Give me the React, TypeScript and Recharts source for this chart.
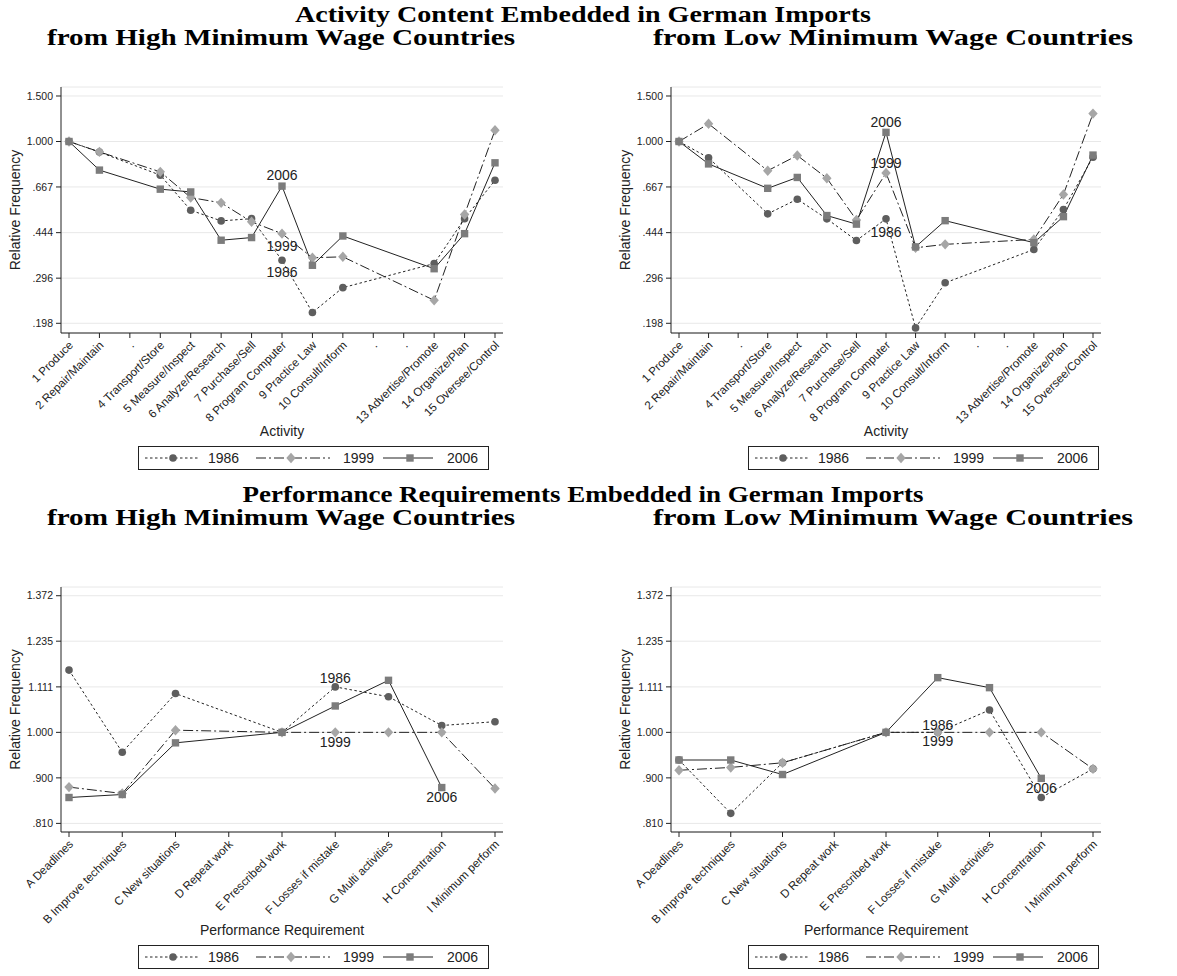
import React from 'react';
import { LineChart, Line, XAxis, YAxis, CartesianGrid, Label } from 'recharts';

// Activity panels (top row) - categories 3, 11, 12 have no data
const activityLabels = [
  '1 Produce', '2 Repair/Maintain', '.', '4 Transport/Store', '5 Measure/Inspect',
  '6 Analyze/Research', '7 Purchase/Sell', '8 Program Computer', '9 Practice Law',
  '10 Consult/Inform', '.', '.', '13 Advertise/Promote', '14 Organize/Plan', '15 Oversee/Control',
];
const actHigh1986 = [1.0, 0.91, null, 0.741, 0.542, 0.493, 0.503, 0.347, 0.218, 0.272, null, null, 0.337, 0.503, 0.708];
const actHigh1999 = [1.0, 0.912, null, 0.763, 0.607, 0.579, 0.489, 0.44, 0.355, 0.358, null, null, 0.243, 0.522, 1.106];
const actHigh2006 = [1.0, 0.775, null, 0.654, 0.638, 0.415, 0.425, 0.672, 0.332, 0.431, null, null, 0.322, 0.44, 0.827];
const actLow1986 = [1.0, 0.865, null, 0.525, 0.598, 0.502, 0.414, 0.502, 0.19, 0.284, null, null, 0.382, 0.546, 0.87];
const actLow1999 = [1.0, 1.171, null, 0.771, 0.883, 0.721, 0.497, 0.755, 0.388, 0.4, null, null, 0.418, 0.624, 1.282];
const actLow2006 = [1.0, 0.819, null, 0.659, 0.726, 0.517, 0.479, 1.085, 0.391, 0.494, null, null, 0.406, 0.512, 0.886];
const activityTicks = [0.198, 0.296, 0.444, 0.667, 1.0, 1.5];
const activityTickLabels = ['.198', '.296', '.444', '.667', '1.000', '1.500'];

// Performance requirement panels (bottom row) - D has no data
const requirementLabels = [
  'A Deadlines', 'B Improve techniques', 'C New situations', 'D Repeat work', 'E Prescribed work',
  'F Losses if mistake', 'G Multi activities', 'H Concentration', 'I Minimum perform',
];
const reqHigh1986 = [1.155, 0.955, 1.094, null, 1.0, 1.111, 1.086, 1.016, 1.025];
const reqHigh1999 = [0.881, 0.868, 1.005, null, 1.0, 1.0, 1.0, 1.0, 0.878];
const reqHigh2006 = [0.86, 0.866, 0.976, null, 1.0, 1.063, 1.128, 0.88, null];
const reqLow1986 = [0.938, 0.829, 0.932, null, 1.0, 1.0, 1.053, 0.86, 0.919];
const reqLow1999 = [0.916, 0.922, 0.932, null, 1.0, 1.0, 1.0, 1.0, 0.919];
const reqLow2006 = [0.938, 0.938, 0.907, null, 1.0, 1.135, 1.109, 0.899, null];
const requirementTicks = [0.81, 0.9, 1.0, 1.111, 1.235, 1.372];
const requirementTickLabels = ['.810', '.900', '1.000', '1.111', '1.235', '1.372'];

const years = ['1986', '1999', '2006'];

const FONT = '"Liberation Sans", Arial, Helvetica, sans-serif';
const SERIF = '"Liberation Serif", "Times New Roman", serif';
const INK = '#222';

const seriesStyles = [
  { key: 'y1986', name: years[0], dash: '2.5 2.5', marker: 'circle' },
  { key: 'y1999', name: years[1], dash: '10 3 2 3', marker: 'diamond' },
  { key: 'y2006', name: years[2], dash: undefined, marker: 'square' },
];

function buildRows(labels: string[], a: (number | null)[], b: (number | null)[], c: (number | null)[]) {
  return labels.map((label, i) => ({ x: i + 1, label, y1986: a[i], y1999: b[i], y2006: c[i] }));
}

function drawMarker(kind: string, cx: number, cy: number) {
  if (kind === 'circle') return <circle cx={cx} cy={cy} r={3.8} fill="#5e5e5e" />;
  if (kind === 'diamond')
    return (
      <polygon
        points={`${cx},${cy - 5.2} ${cx + 4.7},${cy} ${cx},${cy + 5.2} ${cx - 4.7},${cy}`}
        fill="#a6a6a6"
      />
    );
  return <rect x={cx - 3.7} y={cy - 3.7} width={7.4} height={7.4} fill="#7c7c7c" />;
}

interface PointLabel {
  key: string;
  index: number;
  dy: number;
}

const makeDot = (kind: string, name: string, key: string, pointLabels: PointLabel[]) => (props: any) => {
  const { cx, cy, value, index } = props;
  if (value == null || cx == null || cy == null) return <g key={`e-${key}-${index}`} />;
  const lab = pointLabels.find((p) => p.key === key && p.index === index);
  return (
    <g key={`d-${key}-${index}`}>
      {drawMarker(kind, cx, cy)}
      {lab && (
        <text
          x={cx}
          y={cy + lab.dy}
          textAnchor="middle"
          dominantBaseline="central"
          fontFamily={FONT}
          fontSize={14}
          fill={INK}
        >
          {name}
        </text>
      )}
    </g>
  );
};

const AngledTick = (props: any) => {
  const { x, y, payload, labels } = props;
  const text = labels[payload.value - 1];
  const ax = x + 2;
  const ay = y + 3;
  return (
    <text
      x={ax}
      y={ay}
      dy="0.35em"
      textAnchor="end"
      transform={`rotate(-45 ${ax} ${ay})`}
      fontFamily={FONT}
      fontSize={11.6}
      fill={INK}
    >
      {text}
    </text>
  );
};

function LegendBox({ left, top }: { left: number; top: number }) {
  const entries = [
    { x1: 7, x2: 62, mx: 35, tx: 70 },
    { x1: 118, x2: 192, mx: 153, tx: 205 },
    { x1: 245, x2: 295, mx: 272, tx: 309 },
  ];
  return (
    <svg style={{ position: 'absolute', left, top }} width={352} height={25}>
      <rect x={0.5} y={0.5} width={350} height={23} fill="#fff" stroke={INK} />
      {seriesStyles.map((s, i) => (
        <g key={s.key}>
          <line x1={entries[i].x1} x2={entries[i].x2} y1={12} y2={12} stroke={INK} strokeDasharray={s.dash} />
          {drawMarker(s.marker, entries[i].mx, 12)}
          <text x={entries[i].tx} y={12} dominantBaseline="central" fontFamily={FONT} fontSize={14} fill={INK}>
            {s.name}
          </text>
        </g>
      ))}
    </svg>
  );
}

interface PanelProps {
  rows: any[];
  xLabels: string[];
  yTicks: number[];
  yTickLabels: string[];
  domain: [number, number];
  xTitle: string;
  left: number;
  top: number;
  width: number;
  height: number;
  xAxisHeight: number;
  xTitleOffset: number;
  pointLabels: PointLabel[];
}

function Panel(p: PanelProps) {
  const xTicks = p.xLabels.map((_, i) => i + 1);
  return (
    <div style={{ position: 'absolute', left: p.left, top: p.top }}>
      <LineChart width={p.width} height={p.height} data={p.rows} margin={{ top: 17, right: 7, bottom: 0, left: 0 }}>
        <CartesianGrid vertical={false} stroke="#e8e8e8" />
        <XAxis
          type="number"
          dataKey="x"
          domain={[1, p.xLabels.length]}
          ticks={xTicks}
          interval={0}
          padding={{ left: 8, right: 8 }}
          height={p.xAxisHeight}
          tickSize={5}
          tickMargin={2}
          stroke={INK}
          tick={<AngledTick labels={p.xLabels} />}
        >
          <Label
            value={p.xTitle}
            position="insideBottom"
            offset={p.xTitleOffset}
            style={{ fontFamily: FONT, fontSize: 14, fill: INK }}
          />
        </XAxis>
        <YAxis
          type="number"
          scale="log"
          domain={p.domain}
          allowDataOverflow
          ticks={p.yTicks}
          interval={0}
          width={61}
          tickSize={5}
          tickMargin={3}
          stroke={INK}
          tick={{ fontFamily: FONT, fontSize: 10.5, fill: INK }}
          tickFormatter={(v: number) => p.yTickLabels[p.yTicks.indexOf(v)] ?? String(v)}
        >
          <Label
            value="Relative Frequency"
            angle={-90}
            position="insideLeft"
            offset={15}
            style={{ fontFamily: FONT, fontSize: 14, fill: INK, textAnchor: 'middle' }}
          />
        </YAxis>
        {seriesStyles.map((s) => (
          <Line
            key={s.key}
            dataKey={s.key}
            name={s.name}
            type="linear"
            stroke={INK}
            strokeWidth={1}
            strokeDasharray={s.dash}
            connectNulls
            isAnimationActive={false}
            dot={makeDot(s.marker, s.name, s.key, p.pointLabels)}
            activeDot={false}
          />
        ))}
      </LineChart>
    </div>
  );
}

function TitleBlock({ top, main, mainLength }: { top: number; main: string; mainLength: number }) {
  const style = { fontFamily: SERIF, fontWeight: 700, fontSize: 24, fill: '#000' } as const;
  return (
    <svg style={{ position: 'absolute', left: 0, top }} width={1177} height={56}>
      <text x={583} y={22} textAnchor="middle" textLength={mainLength} lengthAdjust="spacingAndGlyphs" style={style}>
        {main}
      </text>
      <text x={281} y={45} textAnchor="middle" textLength={468} lengthAdjust="spacingAndGlyphs" style={style}>
        from High Minimum Wage Countries
      </text>
      <text x={893} y={45} textAnchor="middle" textLength={480} lengthAdjust="spacingAndGlyphs" style={style}>
        from Low Minimum Wage Countries
      </text>
    </svg>
  );
}

export default function App() {
  const actDomain: [number, number] = [0.1816, 1.625];
  const reqDomain: [number, number] = [0.794, 1.4];
  return (
    <div style={{ position: 'absolute', left: 0, top: 0, width: 1177, height: 976, background: '#fff', overflow: 'hidden' }}>
      <TitleBlock top={0} main="Activity Content Embedded in German Imports" mainLength={576} />
      <TitleBlock top={480} main="Performance Requirements Embedded in German Imports" mainLength={681} />

      <Panel
        rows={buildRows(activityLabels, actHigh1986, actHigh1999, actHigh2006)}
        xLabels={activityLabels}
        yTicks={activityTicks}
        yTickLabels={activityTickLabels}
        domain={actDomain}
        xTitle="Activity"
        left={0}
        top={70}
        width={510}
        height={375}
        xAxisHeight={112}
        xTitleOffset={9}
        pointLabels={[
          { key: 'y2006', index: 7, dy: -11 },
          { key: 'y1999', index: 7, dy: 12.5 },
          { key: 'y1986', index: 7, dy: 12 },
        ]}
      />
      <Panel
        rows={buildRows(activityLabels, actLow1986, actLow1999, actLow2006)}
        xLabels={activityLabels}
        yTicks={activityTicks}
        yTickLabels={activityTickLabels}
        domain={actDomain}
        xTitle="Activity"
        left={610}
        top={70}
        width={498}
        height={375}
        xAxisHeight={112}
        xTitleOffset={9}
        pointLabels={[
          { key: 'y2006', index: 7, dy: -10 },
          { key: 'y1999', index: 7, dy: -10 },
          { key: 'y1986', index: 7, dy: 13 },
        ]}
      />
      <Panel
        rows={buildRows(requirementLabels, reqHigh1986, reqHigh1999, reqHigh2006)}
        xLabels={requirementLabels}
        yTicks={requirementTicks}
        yTickLabels={requirementTickLabels}
        domain={reqDomain}
        xTitle="Performance Requirement"
        left={0}
        top={570}
        width={510}
        height={370}
        xAxisHeight={108}
        xTitleOffset={5}
        pointLabels={[
          { key: 'y1986', index: 5, dy: -9 },
          { key: 'y1999', index: 5, dy: 9.5 },
          { key: 'y2006', index: 7, dy: 9.5 },
        ]}
      />
      <Panel
        rows={buildRows(requirementLabels, reqLow1986, reqLow1999, reqLow2006)}
        xLabels={requirementLabels}
        yTicks={requirementTicks}
        yTickLabels={requirementTickLabels}
        domain={reqDomain}
        xTitle="Performance Requirement"
        left={610}
        top={570}
        width={498}
        height={370}
        xAxisHeight={108}
        xTitleOffset={5}
        pointLabels={[
          { key: 'y1986', index: 5, dy: -7 },
          { key: 'y1999', index: 5, dy: 9 },
          { key: 'y2006', index: 7, dy: 10 },
        ]}
      />

      <LegendBox left={138} top={446} />
      <LegendBox left={748} top={446} />
      <LegendBox left={138} top={945} />
      <LegendBox left={748} top={945} />
    </div>
  );
}
